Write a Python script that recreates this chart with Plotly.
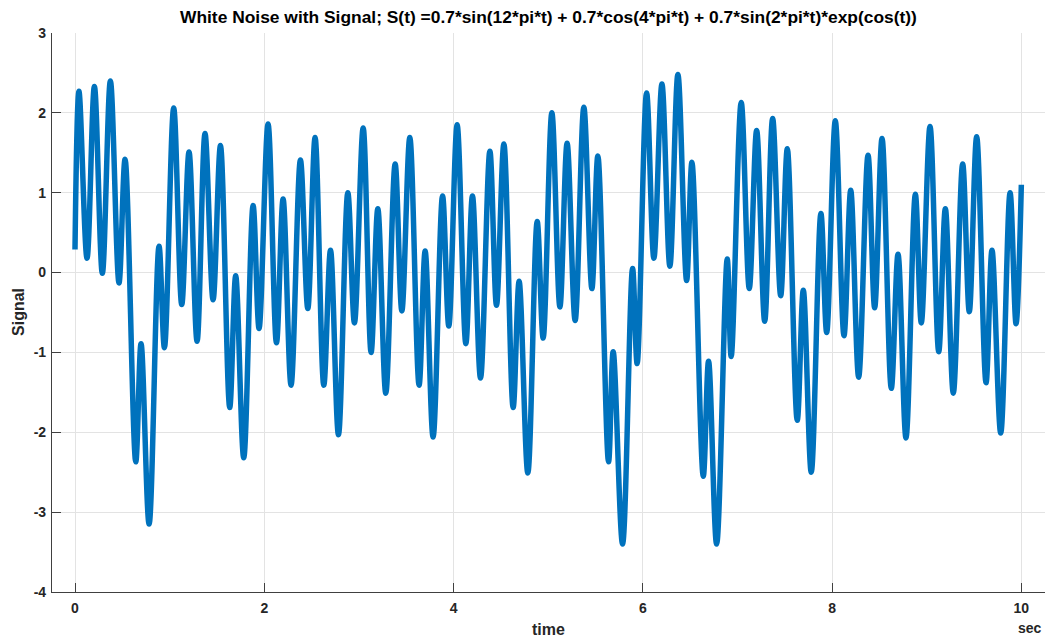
import plotly.graph_objects as go

# Extrema of the signal (time in sec, signal value)
time_s = [
    0.000, 0.042, 0.127, 0.205, 0.289, 0.374, 0.465, 0.529, 0.642, 0.698,
    0.783, 0.888, 0.945, 1.043, 1.128, 1.205, 1.290, 1.374, 1.459, 1.537,
    1.635, 1.698, 1.783, 1.882, 1.945, 2.040, 2.129, 2.199, 2.283, 2.382,
    2.460, 2.537, 2.629, 2.700, 2.784, 2.883, 2.953, 3.045, 3.129, 3.200,
    3.284, 3.383, 3.454, 3.538, 3.636, 3.700, 3.784, 3.884, 3.950, 4.038,
    4.130, 4.200, 4.285, 4.384, 4.454, 4.532, 4.630, 4.693, 4.785, 4.884,
    4.947, 5.039, 5.124, 5.200, 5.285, 5.377, 5.462, 5.525, 5.638, 5.687,
    5.786, 5.892, 5.940, 6.040, 6.117, 6.202, 6.286, 6.371, 6.463, 6.519,
    6.639, 6.695, 6.780, 6.892, 6.934, 7.040, 7.125, 7.203, 7.288, 7.372,
    7.457, 7.527, 7.632, 7.696, 7.780, 7.882, 7.943, 8.034, 8.126, 8.197,
    8.281, 8.380, 8.450, 8.528, 8.626, 8.697, 8.781, 8.880, 8.943, 9.035,
    9.127, 9.197, 9.281, 9.380, 9.450, 9.528, 9.627, 9.690, 9.782, 9.881,
    9.944, 10.000,
]
signal = [
    0.29, 2.27, 0.18, 2.33, -0.01, 2.40, -0.13, 1.42, -2.37, -0.89,
    -3.15, 0.33, -0.94, 2.06, -0.40, 1.51, -0.86, 1.74, -0.34, 1.59,
    -1.69, -0.04, -2.32, 0.84, -0.70, 1.86, -0.88, 0.92, -1.41, 1.41,
    -0.45, 1.69, -1.41, 0.28, -2.03, 1.00, -0.63, 1.81, -1.00, 0.80,
    -1.51, 1.36, -0.48, 1.69, -1.41, 0.27, -2.06, 0.96, -0.67, 1.85,
    -0.89, 0.96, -1.32, 1.52, -0.41, 1.61, -1.69, -0.11, -2.51, 0.64,
    -0.82, 2.00, -0.43, 1.62, -0.60, 2.07, -0.20, 1.46, -2.37, -0.99,
    -3.40, 0.05, -1.14, 2.25, 0.18, 2.36, 0.08, 2.48, -0.10, 1.38,
    -2.55, -1.11, -3.40, 0.17, -1.05, 2.13, -0.20, 1.78, -0.61, 1.93,
    -0.29, 1.55, -1.85, -0.22, -2.50, 0.74, -0.75, 1.90, -0.79, 1.03,
    -1.31, 1.47, -0.44, 1.68, -1.45, 0.23, -2.07, 0.98, -0.63, 1.83,
    -0.99, 0.80, -1.51, 1.36, -0.49, 1.70, -1.38, 0.28, -2.01, 1.00,
    -0.64, 1.10,
]

x_ticks = [0, 2, 4, 6, 8, 10]
y_ticks = [-4, -3, -2, -1, 0, 1, 2, 3]

title_text = ("White Noise with Signal; S(t) =0.7*sin(12*pi*t) + 0.7*cos(4*pi*t) "
              "+ 0.7*sin(2*pi*t)*exp(cos(t))")

FONT = "Liberation Sans, Arial, Helvetica, sans-serif"
TXT = "#262626"
AX = "#404040"
GRID = "#e3e3e3"

fig = go.Figure()
fig.add_trace(go.Scatter(
    x=time_s, y=signal, mode="lines",
    line=dict(color="#0072BD", width=5.5, shape="spline"),
    hoverinfo="x+y", showlegend=False,
))

fig.update_layout(
    width=1045, height=639, autosize=False,
    margin=dict(l=52, r=0, t=33, b=47, pad=0),
    plot_bgcolor="white", paper_bgcolor="white",
    font=dict(family=FONT, size=14, color=TXT, weight="bold"),
    xaxis=dict(
        range=[-0.243, 10.25], tickvals=x_ticks, ticktext=[str(v) for v in x_ticks],
        ticks="inside", ticklen=9, tickwidth=1, tickcolor=AX,
        showline=True, linecolor=AX, linewidth=1.2, mirror=False,
        showgrid=True, gridcolor=GRID, gridwidth=1, zeroline=False,
        tickfont=dict(family=FONT, size=14, color=TXT, weight="bold"),
        ticklabelstandoff=3,
    ),
    yaxis=dict(
        range=[-4, 3], tickvals=y_ticks, ticktext=[str(v) for v in y_ticks],
        ticks="inside", ticklen=9, tickwidth=1, tickcolor=AX,
        showline=True, linecolor=AX, linewidth=1.2, mirror=False,
        showgrid=True, gridcolor=GRID, gridwidth=1, zeroline=False,
        tickfont=dict(family=FONT, size=14, color=TXT, weight="bold"),
        ticklabelstandoff=2,
    ),
    annotations=[
        dict(text=title_text, xref="paper", yref="paper", x=0.4995, y=1.0286,
             xanchor="center", yanchor="middle", showarrow=False,
             font=dict(family=FONT, size=17.4, color="#000000", weight="bold")),
        dict(text="time", xref="paper", yref="paper", x=0.4995, y=-0.0662,
             xanchor="center", yanchor="middle", showarrow=False,
             font=dict(family=FONT, size=16, color=TXT, weight="bold")),
        dict(text="sec", xref="paper", yref="paper", x=0.985, y=-0.0644,
             xanchor="center", yanchor="middle", showarrow=False,
             font=dict(family=FONT, size=14, color=TXT, weight="bold")),
        dict(text="Signal", xref="paper", yref="paper", x=-0.0332, y=0.501,
             xanchor="center", yanchor="middle", showarrow=False, textangle=-90,
             font=dict(family=FONT, size=16, color=TXT, weight="bold")),
    ],
)

fig.write_html(
    "out.html",
    config={"displayModeBar": False},
    post_script="document.body.style.margin='0';document.body.style.overflow='hidden';",
)
